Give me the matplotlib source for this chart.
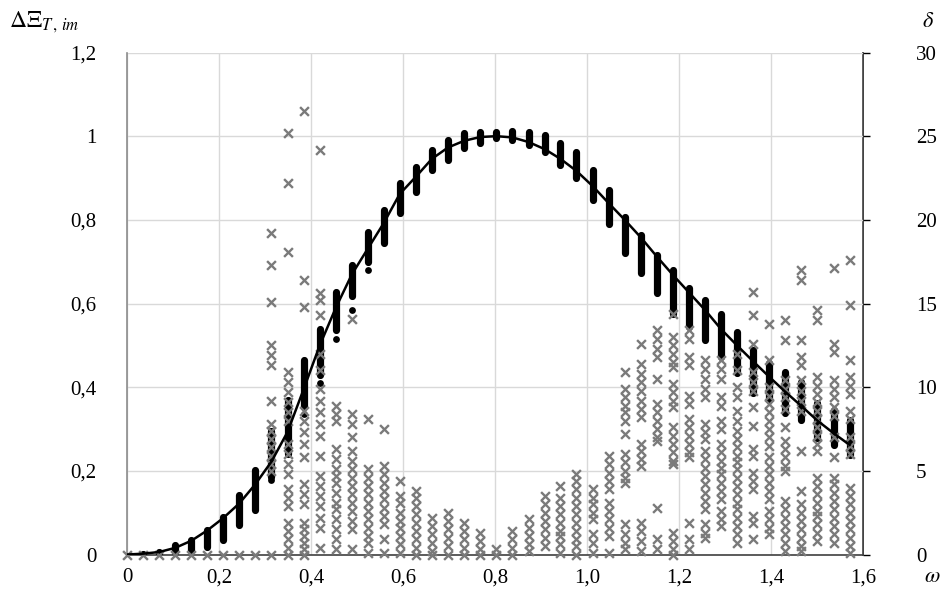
import numpy as np
import matplotlib
matplotlib.use('Agg')
import matplotlib.pyplot as plt

plt.rcParams['font.family'] = 'Liberation Serif'
plt.rcParams['mathtext.fontset'] = 'stix'

# omega grid (2 degree steps, in radians)
omega = [0.000, 0.035, 0.070, 0.105, 0.140, 0.175, 0.209, 0.244, 0.279, 0.314,
         0.349, 0.384, 0.419, 0.454, 0.489, 0.524, 0.558, 0.593, 0.628, 0.663,
         0.698, 0.733, 0.768, 0.803, 0.838, 0.873, 0.908, 0.942, 0.977, 1.012,
         1.047, 1.082, 1.117, 1.152, 1.187, 1.222, 1.257, 1.292, 1.326, 1.361,
         1.396, 1.431, 1.466, 1.501, 1.536, 1.571]

# theoretical curve dXi_T,im
curve = [0.000, 0.002, 0.006, 0.016, 0.033, 0.058, 0.087, 0.122, 0.168, 0.222,
         0.293, 0.395, 0.500, 0.590, 0.670, 0.732, 0.792, 0.862, 0.903, 0.946,
         0.973, 0.989, 0.998, 1.000, 0.997, 0.986, 0.969, 0.946, 0.917, 0.881,
         0.840, 0.800, 0.758, 0.712, 0.668, 0.626, 0.584, 0.538, 0.500, 0.462,
         0.425, 0.389, 0.355, 0.320, 0.290, 0.262]

# spread of simulated points (black dots), low / high per column
dots_lo = [0.000, 0.000, 0.002, 0.007, 0.011, 0.019, 0.035, 0.071, 0.106, 0.185,
           0.240, 0.353, 0.430, 0.537, 0.617, 0.699, 0.744, 0.817, 0.867, 0.919,
           0.943, 0.971, 0.983, 0.995, 0.991, 0.979, 0.963, 0.931, 0.899, 0.847,
           0.791, 0.720, 0.672, 0.624, 0.576, 0.545, 0.513, 0.473, 0.433, 0.385,
           0.369, 0.338, 0.321, 0.278, 0.262, 0.238]
dots_hi = [0.000, 0.002, 0.006, 0.023, 0.035, 0.059, 0.090, 0.142, 0.202, 0.295,
           0.369, 0.465, 0.540, 0.628, 0.692, 0.771, 0.823, 0.889, 0.927, 0.967,
           0.991, 1.007, 1.011, 1.011, 1.013, 1.011, 1.003, 0.983, 0.963, 0.919,
           0.871, 0.807, 0.764, 0.716, 0.680, 0.636, 0.608, 0.576, 0.533, 0.489,
           0.457, 0.437, 0.413, 0.361, 0.345, 0.321]
# isolated black dots: (column, value)
dots_extra = [(9, 0.178), (11, 0.337), (12, 0.441), (12, 0.409),
              (13, 0.516), (14, 0.585), (15, 0.680)]

# relative error delta (grey crosses, right axis), per column
delta = [
    [0], [0], [0], [0], [0], [0], [0], [0], [0],
    [19.2, 17.3, 15.1, 12.5, 11.9, 11.3, 9.2, 7.8, 7.4, 6.9, 6.4, 5.9, 5.4, 5.0, 0],
    [25.2, 22.2, 18.1, 10.9, 10.3, 9.7, 9.1, 8.5, 8.0, 6.6, 6.0, 5.4, 4.8, 3.9, 3.4,
     2.9, 1.9, 1.4, 0.9, 0.4, 0],
    [26.5, 16.4, 14.8, 8.6, 8.0, 7.3, 6.6, 5.8, 4.2, 3.6, 3.0, 1.9, 1.5, 1.1, 0.7, 0.3, 0],
    [24.2, 15.6, 15.2, 14.3, 12.0, 11.0, 9.9, 9.2, 8.5, 7.8, 7.1, 5.9, 4.7, 4.1, 3.5,
     2.9, 2.2, 1.6, 0.4],
    [8.9, 8.4, 8.0, 6.3, 5.7, 5.1, 4.7, 4.3, 3.7, 3.1, 2.7, 2.1, 1.5, 0.9, 0.3],
    [14.1, 8.4, 7.8, 7.0, 6.2, 5.6, 5.1, 4.6, 4.1, 3.6, 3.1, 2.6, 2.0, 1.5, 0.3],
    [8.1, 5.1, 4.6, 4.1, 3.6, 3.1, 2.6, 2.1, 1.6, 1.1, 0.7, 0.1],
    [7.5, 5.3, 4.8, 4.3, 3.8, 3.3, 2.8, 2.3, 1.8, 0.9, 0.1],
    [4.4, 3.5, 3.1, 2.5, 2.0, 1.6, 1.1, 0.6, 0.1],
    [3.8, 3.4, 2.9, 2.4, 1.9, 1.4, 0.9, 0.4, 0.0],
    [2.2, 1.7, 1.2, 0.7, 0.2, 0.0],
    [2.5, 2.0, 1.5, 1.0, 0.5, 0.0],
    [1.9, 1.4, 0.9, 0.4, 0.0],
    [1.3, 0.8, 0.3, 0.0],
    [0.3, 0.0],
    [1.4, 0.9, 0.4, 0.0],
    [2.1, 1.6, 1.1, 0.6, 0.2],
    [3.5, 3.0, 2.5, 2.0, 1.5, 1.0, 0.5],
    [4.1, 3.4, 2.9, 2.4, 1.9, 1.4, 1.1, 0.6, 0.1],
    [4.8, 4.4, 3.9, 3.4, 2.9, 2.4, 1.9, 1.4, 0.9, 0.5, 0.0],
    [3.9, 3.4, 3.0, 2.5, 2.1, 1.2, 0.7, 0.1],
    [5.9, 5.4, 4.9, 4.4, 3.9, 3.1, 2.6, 2.1, 1.6, 1.1, 0.1],
    [10.9, 9.9, 9.4, 8.9, 8.5, 8.0, 7.2, 6.0, 5.5, 5.0, 4.6, 4.3, 1.8, 1.2, 0.7, 0.3],
    [12.6, 11.4, 10.8, 10.3, 9.8, 9.2, 8.7, 8.2, 6.6, 6.2, 5.7, 5.3, 1.9, 1.4, 0.8, 0.2],
    [13.4, 12.9, 12.3, 11.8, 10.5, 9.0, 8.5, 8.0, 7.5, 7.0, 6.8, 2.8, 0.9, 0.3],
    [14.4, 13.0, 12.5, 12.0, 11.5, 11.2, 10.2, 9.7, 9.2, 8.8, 7.6, 7.1, 6.6, 6.1, 5.6,
     5.4, 1.3, 0.8, 0.3, 0.0],
    [13.4, 12.9, 11.8, 11.3, 9.5, 9.0, 8.1, 7.6, 7.1, 6.6, 6.1, 5.8, 1.9, 0.9, 0.3],
    [11.6, 11.1, 10.5, 9.9, 9.4, 7.8, 7.3, 6.9, 6.2, 5.7, 5.2, 4.7, 4.2, 3.7, 3.2,
     2.7, 1.8, 1.3, 1.0],
    [11.6, 11.1, 10.5, 9.4, 8.9, 8.0, 7.5, 6.6, 6.1, 5.6, 5.2, 4.8, 4.3, 3.8, 3.3,
     2.6, 2.1, 1.7],
    [12.0, 11.0, 10.0, 9.4, 8.6, 8.0, 7.4, 6.9, 6.4, 5.9, 5.5, 5.1, 4.6, 4.1, 3.6,
     3.1, 2.7, 2.2, 1.7, 1.2, 0.7],
    [15.7, 14.3, 12.6, 10.9, 10.3, 9.8, 8.8, 7.7, 6.3, 5.9, 4.9, 4.4, 3.9, 2.3, 1.9, 0.9],
    [13.8, 11.6, 10.0, 9.5, 9.0, 8.5, 8.0, 7.5, 7.0, 6.5, 5.8, 5.3, 4.8, 4.3, 3.8,
     3.3, 2.6, 2.1, 1.6, 1.2],
    [14.0, 12.8, 10.4, 9.9, 9.4, 8.7, 7.6, 6.8, 6.3, 5.8, 5.3, 5.0, 3.2, 2.7, 2.2,
     1.7, 1.2, 0.7, 0.2],
    [17.0, 16.4, 12.8, 11.8, 11.3, 10.4, 9.8, 9.2, 8.6, 6.2, 3.8, 3.0, 2.5, 2.0, 1.5,
     1.0, 0.5, 0.2],
    [14.6, 14.0, 10.6, 10.1, 9.6, 9.1, 8.6, 8.1, 7.6, 7.1, 6.6, 6.2, 4.6, 4.1, 3.6,
     3.1, 2.6, 2.3, 1.8, 1.3, 0.8],
    [17.1, 12.6, 12.1, 10.4, 9.9, 9.4, 8.8, 8.3, 7.0, 5.8, 4.6, 4.2, 3.7, 3.2, 2.7,
     2.2, 1.7, 1.2, 0.7],
    [17.6, 14.9, 11.6, 10.6, 10.1, 9.6, 8.6, 8.1, 7.0, 6.5, 6.0, 4.0, 3.5, 3.0, 2.5,
     2.0, 1.5, 1.0, 0.5, 0.1],
]

x_ticks = [0, 0.2, 0.4, 0.6, 0.8, 1.0, 1.2, 1.4, 1.6]
x_labels = ['0', '0,2', '0,4', '0,6', '0,8', '1,0', '1,2', '1,4', '1,6']
y_ticks = [0, 0.2, 0.4, 0.6, 0.8, 1.0, 1.2]
y_labels = ['0', '0,2', '0,4', '0,6', '0,8', '1', '1,2']
d_ticks = [0, 5, 10, 15, 20, 25, 30]
d_labels = ['0', '5', '10', '15', '20', '25', '30']

DELTA_SCALE = 25.0  # right axis: delta = 25 * left value

fig = plt.figure(figsize=(9.47, 5.96), dpi=100)
ax = fig.add_axes([0.1341, 0.0696, 0.7772, 0.8423])

ax.set_xlim(0, 1.6)
ax.set_ylim(0, 1.2)
ax.grid(True, color='#d9d9d9', linewidth=1.0)
ax.set_axisbelow(True)

# black dot clusters drawn as thick rounded segments
om = np.array(omega)
segs = ax.vlines(om, dots_lo, dots_hi, colors='black', linewidth=5.2, zorder=3)
segs.set_capstyle('round')
ex_k = [omega[k] for k, v in dots_extra]
ex_v = [v for k, v in dots_extra]
ax.scatter(ex_k, ex_v, s=24, color='black', zorder=3, linewidths=0)

# grey crosses (right axis values)
cx, cy = [], []
for k, vals in enumerate(delta):
    for v in vals:
        cx.append(omega[k])
        cy.append(v / DELTA_SCALE)
ax.scatter(cx, cy, marker='x', s=40, color='#7a7a7a', linewidths=1.7,
           zorder=4, clip_on=False)

ax.plot(omega, curve, color='black', linewidth=1.8, zorder=5)

ax.set_xticks(x_ticks)
ax.set_xticklabels(x_labels)
ax.set_yticks(y_ticks)
ax.set_yticklabels(y_labels)
ax.tick_params(axis='both', labelsize=15, length=0)
ax.tick_params(axis='y', pad=22)
ax.tick_params(axis='x', pad=10)

for s in ['top', 'right']:
    ax.spines[s].set_visible(False)
ax.spines['left'].set_color('#8c8c8c')
ax.spines['bottom'].set_color('#404040')
ax.spines['left'].set_linewidth(1.2)
ax.spines['bottom'].set_linewidth(1.2)

sec = ax.secondary_yaxis('right', functions=(lambda v: v * DELTA_SCALE,
                                             lambda d: d / DELTA_SCALE))
sec.set_yticks(d_ticks)
sec.set_yticklabels(d_labels)
sec.tick_params(labelsize=15, length=5, width=1.0, pad=33, direction='out')
sec.spines['right'].set_color('#202020')
sec.spines['right'].set_linewidth(1.2)

fig.text(0.010, 0.955, r'$\Delta\Xi_{T\,,\,im}$', fontsize=17, ha='left', va='baseline')
fig.text(0.980, 0.955, r'$\delta$', fontsize=16, ha='center', va='baseline')
fig.text(0.984, 0.024, r'$\omega$', fontsize=16, ha='center', va='baseline')

fig.savefig('out.png', dpi=100)
